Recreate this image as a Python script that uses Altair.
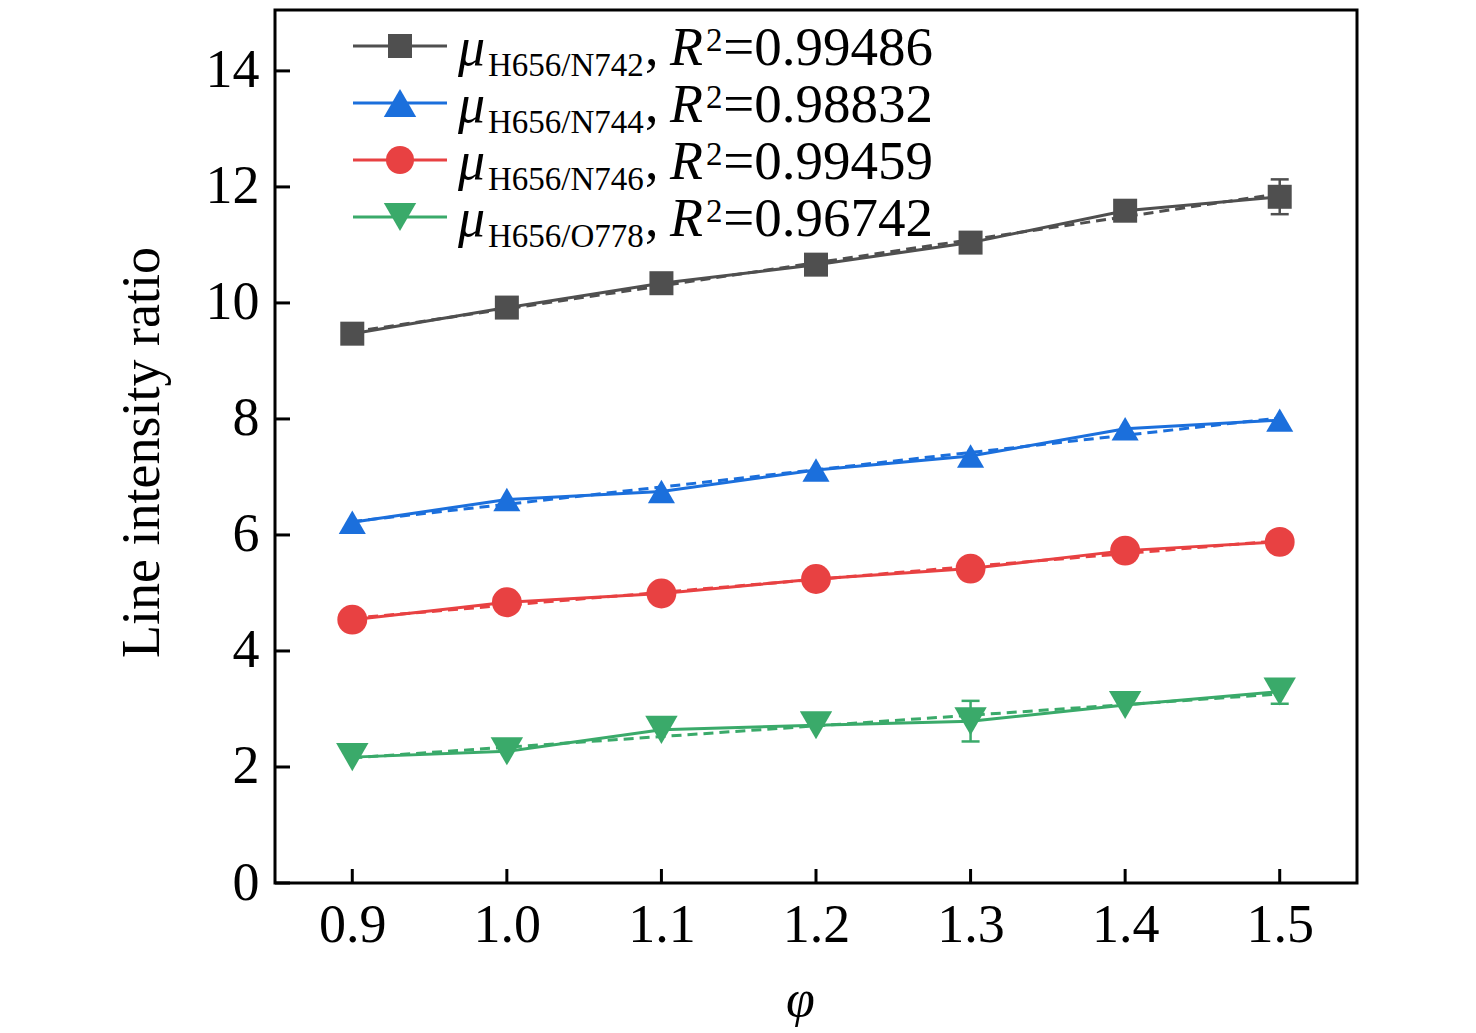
import altair as alt
import pandas as pd

# ---- data ----
phi = [0.9, 1.0, 1.1, 1.2, 1.3, 1.4, 1.5]
series = ["H656/N742", "H656/N744", "H656/N746", "H656/O778"]
r2_text = ["0.99486", "0.98832", "0.99459", "0.96742"]

ratio_n742 = [9.47, 9.92, 10.34, 10.66, 11.04, 11.59, 11.83]
ratio_n744 = [6.22, 6.61, 6.75, 7.12, 7.36, 7.83, 7.98]
ratio_n746 = [4.54, 4.84, 4.99, 5.24, 5.42, 5.73, 5.88]
ratio_o778 = [2.17, 2.27, 2.64, 2.72, 2.79, 3.07, 3.30]

err_n742 = [0, 0, 0, 0, 0, 0, 0.30]
err_n744 = [0, 0, 0, 0, 0, 0, 0]
err_n746 = [0, 0, 0, 0, 0, 0, 0]
err_o778 = [0, 0, 0, 0, 0.35, 0, 0.21]

y_ticks = [0, 2, 4, 6, 8, 10, 12, 14]
x_ticks = phi

# ---- styles ----
colors = ["#4f4f4f", "#1b6fdc", "#e84142", "#3aaa6a"]
shapes = ["square", "triangle-up", "circle", "triangle-down"]
sizes = [576, 1050, 784, 1050]
FONT = "Liberation Serif"

values = [ratio_n742, ratio_n744, ratio_n746, ratio_o778]
errors = [err_n742, err_n744, err_n746, err_o778]

rows, err_rows, cap_rows = [], [], []
for s, vals, errs in zip(series, values, errors):
    for p, v, e in zip(phi, vals, errs):
        rows.append(dict(series=s, phi=p, ratio=v))
        if e > 0:
            err_rows.append(dict(series=s, phi=p, ratio=v - e, hi=v + e))
            cap_rows.append(dict(series=s, phi=p, ratio=v - e))
            cap_rows.append(dict(series=s, phi=p, ratio=v + e))
df = pd.DataFrame(rows)
err_df = pd.DataFrame(err_rows)
cap_df = pd.DataFrame(cap_rows)
yt_df = pd.DataFrame({"ratio": y_ticks})
xt_df = pd.DataFrame({"phi": x_ticks})
one = pd.DataFrame({"k": [0]})

W, H = 1082, 873
xs = alt.Scale(domain=[0.85, 1.55], nice=False, zero=False)
ys = alt.Scale(domain=[0, 15.05], nice=False, zero=False)

xaxis = alt.Axis(values=x_ticks, format=".1f", title="φ", grid=False, domain=False,
                 ticks=False, labelFont=FONT, labelFontSize=54, labelColor="black",
                 labelPadding=15, titleFont=FONT, titleFontSize=52, titleFontStyle="italic",
                 titleFontWeight="normal", titleColor="black", titleX=525, titleY=132,
                 titleBaseline="alphabetic", titleAlign="center")
yaxis = alt.Axis(values=y_ticks, title="Line intensity ratio", grid=False, domain=False,
                 ticks=False, labelFont=FONT, labelFontSize=54, labelColor="black",
                 labelPadding=16, titleFont=FONT, titleFontSize=54, titleFontWeight="normal",
                 titleColor="black", titleAngle=270, titleX=-117, titleY=442,
                 titleBaseline="alphabetic", titleAlign="center")

X = alt.X("phi:Q", scale=xs, axis=xaxis)
Y = alt.Y("ratio:Q", scale=ys, axis=yaxis)
col = alt.Color("series:N", scale=alt.Scale(domain=series, range=colors), legend=None)
shp = alt.Shape("series:N", scale=alt.Scale(domain=series, range=shapes), legend=None)
siz = alt.Size("series:N", scale=alt.Scale(domain=series, range=sizes), legend=None)

base = alt.Chart(df)

fit = base.transform_regression(
    "phi", "ratio", groupby=["series"], extent=[0.9, 1.5]
).mark_line(strokeWidth=3, strokeDash=[10, 6]).encode(x=X, y=Y, color=col, detail="series:N")

lines = base.mark_line(strokeWidth=3).encode(x=X, y=Y, color=col, detail="series:N")

ebar = alt.Chart(err_df).mark_rule(strokeWidth=2.5).encode(
    x=X, y=Y, y2="hi:Q", color=col)
ecap = alt.Chart(cap_df).mark_rule(strokeWidth=2.5, xOffset=-9, x2Offset=9).encode(
    x=X, x2="phi:Q", y=Y, color=col)

points = base.mark_point(filled=True, opacity=1).encode(
    x=X, y=Y, color=col, shape=shp, size=siz)

ytick = alt.Chart(yt_df).mark_rule(strokeWidth=3, color="black").encode(
    y=Y, x=alt.value(0), x2=alt.value(15))
xtick = alt.Chart(xt_df).mark_rule(strokeWidth=3, color="black").encode(
    x=X, y=alt.value(H), y2=alt.value(H - 14))

layers = [fit, lines, ebar, ecap, points, ytick, xtick]

# ---- hand-built legend (rich text with sub/superscripts) ----
ROW = 57
for i, s in enumerate(series):
    ly = 36 + ROW * i
    tb = 55 + ROW * i
    layers.append(alt.Chart(one).mark_rule(strokeWidth=3, color=colors[i]).encode(
        x=alt.value(78), x2=alt.value(172), y=alt.value(ly)))
    layers.append(alt.Chart(one).mark_point(shape=shapes[i], size=sizes[i], filled=True,
                                            opacity=1, color=colors[i]).encode(
        x=alt.value(125), y=alt.value(ly)))
    txt = dict(font=FONT, color="black", align="left", baseline="alphabetic")
    layers.append(alt.Chart(one).mark_text(text="μ", fontSize=54, fontStyle="italic", **txt)
                  .encode(x=alt.value(183), y=alt.value(tb)))
    layers.append(alt.Chart(one).mark_text(text=s, fontSize=33, **txt)
                  .encode(x=alt.value(213), y=alt.value(tb + 11)))
    layers.append(alt.Chart(one).mark_text(text=",", fontSize=54, **txt)
                  .encode(x=alt.value(370), y=alt.value(tb)))
    layers.append(alt.Chart(one).mark_text(text="R", fontSize=54, fontStyle="italic", **txt)
                  .encode(x=alt.value(395), y=alt.value(tb)))
    layers.append(alt.Chart(one).mark_text(text="2", fontSize=33, **txt)
                  .encode(x=alt.value(431), y=alt.value(tb - 14)))
    layers.append(alt.Chart(one).mark_text(text="=" + r2_text[i], fontSize=55, font=FONT,
                                           color="black", align="right", baseline="alphabetic")
                  .encode(x=alt.value(658), y=alt.value(tb)))

chart = alt.layer(*layers).properties(
    width=W, height=H,
    autosize=alt.AutoSizeParams(type="none"),
    padding={"left": 267, "top": 2, "right": 100, "bottom": 150},
).configure_view(stroke="black", strokeWidth=3, strokeOpacity=1)

chart.save("out.html", embed_options={"renderer": "svg", "actions": False})
